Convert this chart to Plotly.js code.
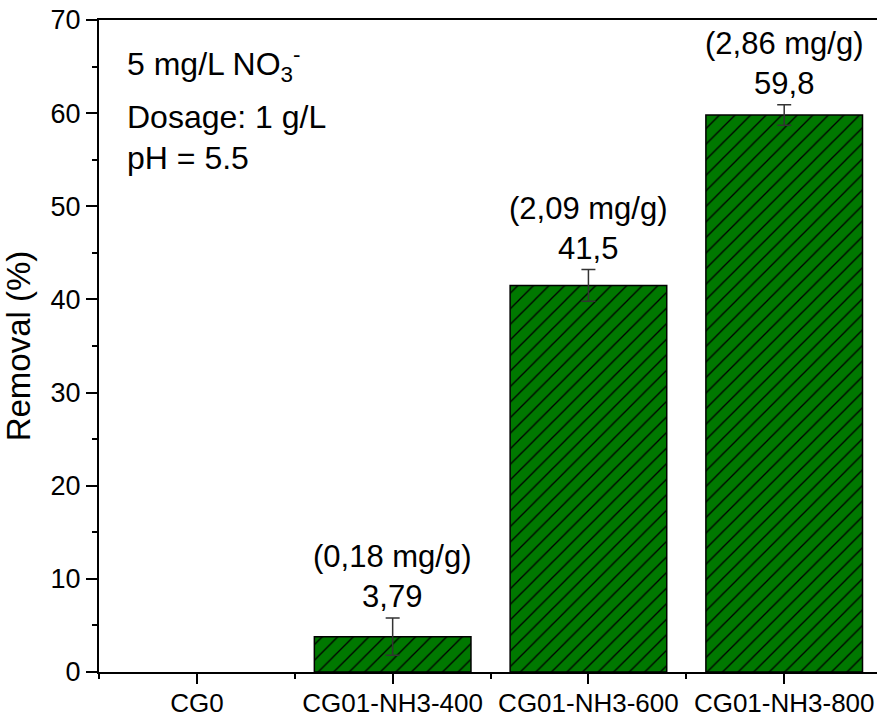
<!DOCTYPE html>
<html>
<head>
<meta charset="utf-8">
<script src="https://cdn.plot.ly/plotly-3.0.1.min.js"></script>
<style>html,body{margin:0;padding:0;background:#fff;}</style>
</head>
<body>
<div id="chart" style="width:877px;height:719px;"></div>
<script>
const categories = ["CG0", "CG01-NH3-400", "CG01-NH3-600", "CG01-NH3-800"];
const removal = [0, 3.79, 41.5, 59.8];
const removalErr = [0, 2.0, 1.7, 1.1];
const capacityLabels = ["", "(0,18 mg/g)", "(2,09 mg/g)", "(2,86 mg/g)"];
const valueLabels = ["", "3,79", "41,5", "59,8"];
const conditionLines = ["5 mg/L NO<sub>3</sub><sup>-</sup>", "Dosage: 1 g/L", "pH = 5.5"];
const yTicks = [0, 10, 20, 30, 40, 50, 60, 70];

const xs = categories.map((c, i) => i);
const FONT = "Liberation Sans, Arial, sans-serif";

const trace = {
  type: "bar",
  x: xs,
  y: removal,
  width: 0.8,
  marker: {
    color: "#007800",
    line: {color: "#000", width: removal.map(v => v > 0 ? 1.5 : 0)},
    pattern: {shape: "/", fgcolor: "#000", bgcolor: "#007800", size: 11, solidity: 0.12}
  },
  error_y: {type: "data", array: removalErr.map(e => e > 0 ? e : NaN), visible: true, color: "#333", thickness: 1.5, width: 7},
  hoverinfo: "skip"
};

const annotations = [];
categories.forEach((c, i) => {
  if (!valueLabels[i]) return;
  annotations.push({
    x: xs[i], y: removal[i] + removalErr[i], xref: "x", yref: "y",
    text: capacityLabels[i] + "<br>" + valueLabels[i],
    showarrow: false, yanchor: "bottom", yshift: 2,
    font: {family: FONT, size: 31, color: "#000"}
  });
});
const condY = [0.931, 0.851, 0.789];
conditionLines.forEach((t, i) => {
  annotations.push({
    xref: "paper", yref: "paper", x: 0.034, y: condY[i], xanchor: "left", yanchor: "middle",
    align: "left", showarrow: false, text: t,
    font: {family: FONT, size: 32, color: "#000"}
  });
});

const layout = {
  width: 877, height: 719,
  margin: {l: 99, r: 0, t: 20, b: 47},
  paper_bgcolor: "#fff", plot_bgcolor: "#fff",
  showlegend: false,
  font: {family: FONT, color: "#000"},
  xaxis: {
    range: [-0.5, 3.474],
    tickvals: xs, ticktext: categories,
    ticks: "outside", ticklen: 10, tickwidth: 2, tickcolor: "#000",
    ticklabelstandoff: -3,
    minor: {tickvals: [-0.5, 0.5, 1.5, 2.5, 3.5], ticks: "outside", ticklen: 5, tickwidth: 2, tickcolor: "#000"},
    showline: true, linewidth: 2, linecolor: "#000", mirror: true,
    showgrid: false, zeroline: false,
    tickfont: {family: FONT, size: 26, color: "#000"}
  },
  yaxis: {
    range: [0, 70],
    tickvals: yTicks,
    ticks: "outside", ticklen: 11, tickwidth: 2, tickcolor: "#000",
    minor: {dtick: 5, tick0: 0, ticks: "outside", ticklen: 5, tickwidth: 2, tickcolor: "#000"},
    showline: true, linewidth: 2, linecolor: "#000",
    showgrid: false, zeroline: false,
    tickfont: {family: FONT, size: 27, color: "#000"},
    title: {text: "Removal (%)", font: {family: FONT, size: 33, color: "#000"}, standoff: 10}
  },
  annotations: annotations
};

Plotly.newPlot("chart", [trace], layout, {displayModeBar: false, staticPlot: true});
</script>
</body>
</html>
